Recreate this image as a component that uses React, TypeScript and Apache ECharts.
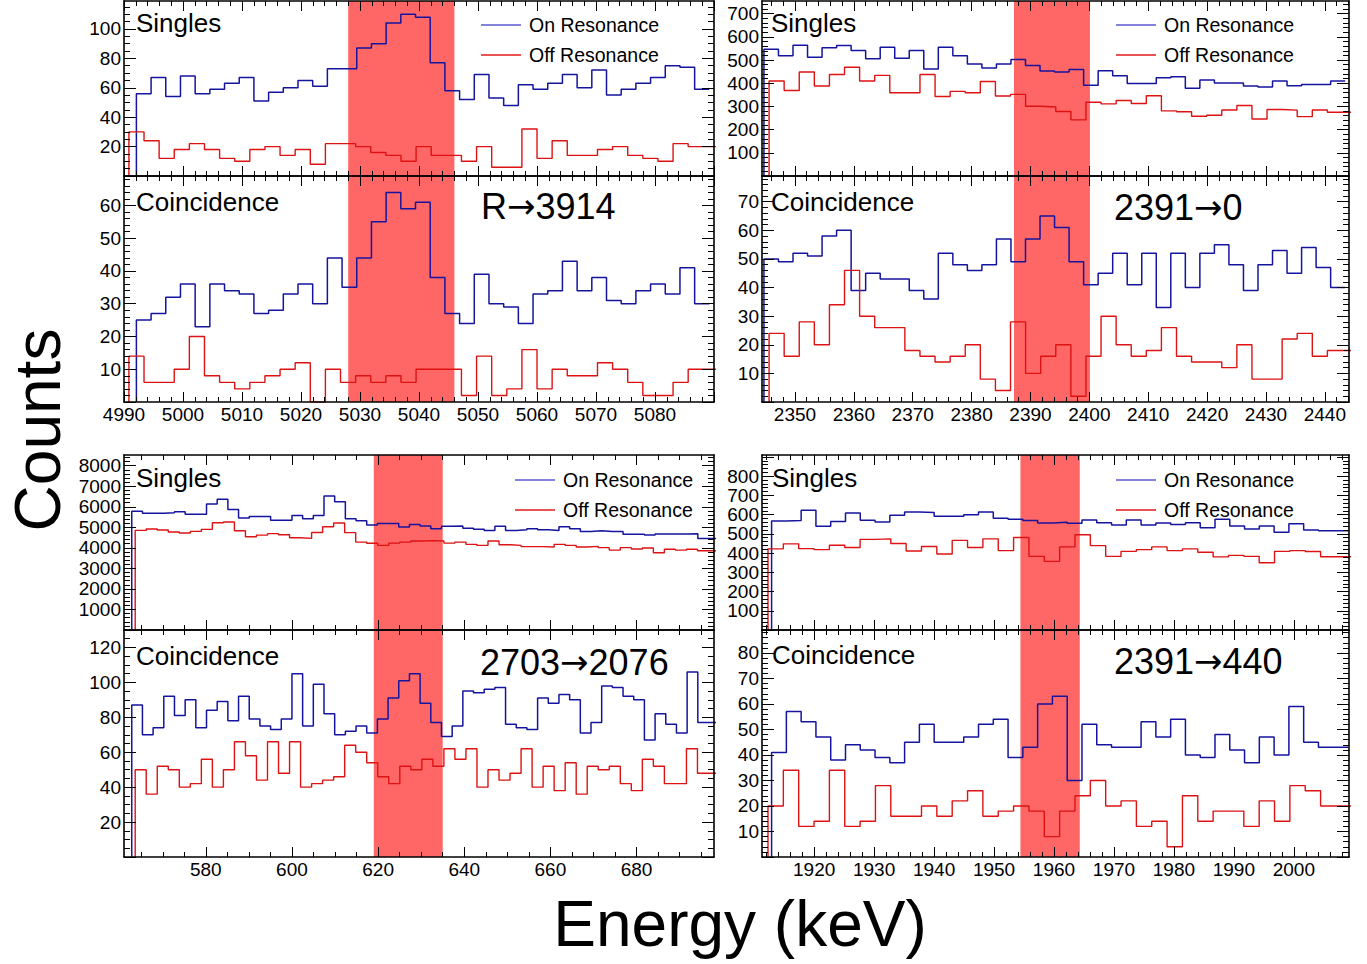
import React, { useEffect, useRef } from "react";
import * as echarts from "echarts";

const FONT = "'Liberation Sans', Arial, Helvetica, sans-serif";
const ARROW_FONT = "'DejaVu Sans', sans-serif";
const ON_COLOR = "#14149e";
const OFF_COLOR = "#dd1212";
const GATE_COLOR = "#ff6666";

// Binning of the two runs (keV): on-resonance bins are ~2.47 keV, off-resonance ~2.56 keV
// ---------- R -> 3914 ----------
const r3914Range = [4990, 5090];
const r3914Gate = [5028, 5046];
const r3914OnBins = { start: 4992.1, width: 2.49 };
const r3914OffBins = { start: 4990.83, width: 2.562 };
const r3914XLabels = [4990, 5000, 5010, 5020, 5030, 5040, 5050, 5060, 5070, 5080];
const r3914SinglesOn = [56, 67, 54, 68, 56, 59, 63, 67, 51, 57, 60, 65, 61, 73, 73, 87, 90, 104, 110, 108, 77, 58, 52, 69, 53, 48, 62, 59, 63, 69, 60, 72, 55, 59, 63, 67, 75, 74, 59];
const r3914SinglesOff = [30, 24, 12, 18, 22, 18, 12, 10, 18, 20, 14, 18, 8, 22, 22, 20, 16, 14, 10, 20, 14, 14, 10, 20, 6, 6, 32, 12, 24, 14, 14, 18, 20, 14, 12, 10, 22, 20, 20];
const r3914CoincOn = [25, 27, 32, 36, 23, 36, 34, 33, 27, 28, 33, 36, 30, 44, 35, 44, 55, 64, 59, 61, 38, 27, 24, 39, 30, 29, 24, 33, 34, 43, 34, 38, 31, 30, 34, 36, 33, 41, 30];
const r3914CoincOff = [14, 6, 6, 10, 20, 8, 6, 4, 6, 8, 10, 12, 0, 10, 6, 8, 6, 8, 6, 10, 10, 10, 2, 14, 2, 4, 16, 4, 10, 8, 8, 12, 10, 6, 2, 2, 6, 10, 10];
const r3914SinglesYLabels = [20, 40, 60, 80, 100];
const r3914CoincYLabels = [10, 20, 30, 40, 50, 60];

// ---------- 2391 -> 0 ----------
const g2391Range = [2344.4, 2444.1];
const g2391Gate = [2387.2, 2400.1];
const g2391OnBins = { start: 2344.73, width: 2.468 };
const g2391OffBins = { start: 2345.6, width: 2.563 };
const g2391XLabels = [2350, 2360, 2370, 2380, 2390, 2400, 2410, 2420, 2430, 2440];
const g2391SinglesOn = [547, 519, 564, 512, 553, 563, 541, 506, 555, 508, 541, 462, 555, 519, 483, 466, 483, 503, 477, 453, 449, 459, 391, 454, 433, 399, 399, 424, 428, 379, 414, 401, 401, 388, 384, 410, 389, 395, 395, 410];
const g2391SinglesOff = [410, 369, 449, 388, 438, 469, 410, 434, 359, 359, 438, 343, 365, 359, 408, 345, 352, 301, 298, 278, 242, 318, 311, 326, 313, 346, 281, 277, 258, 262, 285, 304, 246, 287, 284, 256, 285, 275, 275];
const g2391CoincOn = [50, 49, 52, 51, 58, 60, 39, 45, 43, 43, 39, 36, 52, 48, 46, 48, 57, 49, 57, 65, 61, 49, 41, 45, 52, 41, 52, 33, 52, 40, 52, 55, 48, 39, 48, 53, 45, 54, 47, 40];
const g2391CoincOff = [24, 16, 28, 20, 34, 46, 30, 26, 26, 18, 16, 14, 16, 20, 8, 4, 28, 10, 16, 20, 2, 16, 30, 20, 16, 18, 26, 16, 14, 14, 12, 20, 8, 8, 22, 24, 16, 18, 18];
const g2391SinglesYLabels = [100, 200, 300, 400, 500, 600, 700];
const g2391CoincYLabels = [10, 20, 30, 40, 50, 60, 70];

// ---------- 2703 -> 2076 ----------
const g2703Range = [561, 698];
const g2703Gate = [619, 635];
const g2703OnBins = { start: 562.8, width: 2.48 };
const g2703OffBins = { start: 563.6, width: 2.56 };
const g2703XLabels = [580, 600, 620, 640, 660, 680];
const g2703SinglesOn = [5780, 5680, 5680, 5710, 5760, 5630, 5630, 6130, 6360, 5870, 5450, 5520, 5520, 5340, 5340, 5580, 5420, 5580, 6520, 6250, 5420, 5320, 5110, 5180, 5180, 5010, 5140, 5060, 4930, 5050, 5060, 4950, 4900, 4850, 5050, 4850, 4880, 4930, 4880, 4850, 5030, 4930, 4800, 4830, 4800, 4800, 4660, 4660, 4620, 4670, 4670, 4670, 4690, 4460, 4460];
const g2703SinglesOff = [4850, 4920, 4870, 4770, 4720, 4800, 4900, 5220, 5260, 4830, 4540, 4620, 4690, 4640, 4490, 4460, 4750, 5030, 5210, 4740, 4280, 4220, 4120, 4230, 4280, 4330, 4350, 4330, 4230, 4280, 4170, 4120, 4330, 4150, 4120, 4060, 4060, 4040, 4170, 4120, 4040, 4070, 4010, 3890, 4010, 3940, 3990, 3760, 3930, 3890, 3930, 3860, 3860];
const g2703CoincOn = [87, 70, 74, 92, 81, 90, 74, 84, 89, 78, 92, 79, 75, 73, 79, 105, 75, 99, 82, 70, 72, 75, 71, 79, 91, 101, 105, 88, 77, 69, 75, 95, 94, 96, 97, 76, 74, 73, 91, 88, 93, 90, 71, 77, 98, 97, 92, 90, 67, 82, 76, 71, 106, 77, 77];
const g2703CoincOff = [50, 36, 52, 50, 40, 42, 56, 40, 50, 66, 58, 44, 66, 48, 66, 40, 42, 44, 46, 64, 60, 54, 46, 42, 52, 50, 56, 52, 62, 56, 62, 40, 50, 44, 48, 62, 40, 52, 38, 54, 36, 52, 50, 52, 42, 38, 56, 52, 42, 42, 62, 48, 48];
const g2703SinglesYLabels = [1000, 2000, 3000, 4000, 5000, 6000, 7000, 8000];
const g2703CoincYLabels = [20, 40, 60, 80, 100, 120];

// ---------- 2391 -> 440 ----------
const g440Range = [1911.3, 2009.2];
const g440Gate = [1954.4, 1964.3];
const g440OnBins = { start: 1912.9, width: 2.465 };
const g440OffBins = { start: 1912.3, width: 2.56 };
const g440XLabels = [1920, 1930, 1940, 1950, 1960, 1970, 1980, 1990, 2000];
const g440SinglesOn = [567, 569, 623, 539, 564, 609, 571, 562, 597, 614, 611, 592, 592, 599, 613, 581, 576, 569, 557, 560, 555, 572, 558, 546, 572, 546, 557, 548, 558, 532, 576, 541, 525, 541, 508, 553, 520, 516, 516];
const g440SinglesOff = [422, 448, 423, 418, 441, 429, 471, 474, 450, 411, 434, 395, 466, 429, 474, 413, 481, 383, 357, 432, 495, 439, 383, 409, 418, 432, 413, 422, 404, 380, 388, 383, 350, 409, 413, 408, 381, 381];
const g440CoincOn = [41, 57, 53, 47, 38, 44, 42, 39, 37, 45, 52, 45, 45, 47, 52, 54, 39, 43, 60, 63, 30, 52, 44, 43, 43, 53, 47, 54, 40, 39, 48, 42, 37, 47, 40, 59, 45, 43, 43];
const g440CoincOff = [20, 34, 12, 14, 34, 12, 14, 28, 16, 16, 20, 16, 22, 26, 16, 18, 20, 18, 8, 18, 24, 30, 20, 22, 12, 14, 4, 24, 14, 18, 18, 12, 22, 14, 28, 26, 20, 20];
const g440SinglesYLabels = [100, 200, 300, 400, 500, 600, 700, 800];
const g440CoincYLabels = [10, 20, 30, 40, 50, 60, 70, 80];

// Histogram outline: one point per bin's low edge, closed at the last bin's high edge
function histogram(bins: { start: number; width: number }, values: number[]) {
  const pts: number[][] = [[bins.start, 0]];
  values.forEach((v, i) => pts.push([+(bins.start + i * bins.width).toFixed(3), v]));
  pts.push([+(bins.start + values.length * bins.width).toFixed(3), values[values.length - 1]]);
  return pts;
}

function ticksBetween(min: number, max: number, step: number) {
  const out: number[] = [];
  for (let v = Math.ceil(min / step) * step; v <= max + 1e-9; v += step) out.push(+v.toFixed(4));
  return out;
}

type Panel = {
  box: { left: number; top: number; width: number; height: number };
  xRange: number[];
  xMajor: number[];
  xMajorStep: number;
  xMinorStep: number;
  showXLabels: boolean;
  yMax: number;
  yLabels: number[];
  yMinorStep: number;
  on: number[][];
  off: number[][];
  gate: number[];
};

const LEFT_X = 124;
const LEFT_W = 590;
const RIGHT_X = 762;
const RIGHT_W = 587;

const panels: Panel[] = [
  {
    box: { left: LEFT_X, top: 1, width: LEFT_W, height: 175 },
    xRange: r3914Range, xMajor: r3914XLabels, xMajorStep: 10, xMinorStep: 2, showXLabels: false,
    yMax: 119, yLabels: r3914SinglesYLabels, yMinorStep: 5,
    on: histogram(r3914OnBins, r3914SinglesOn), off: histogram(r3914OffBins, r3914SinglesOff), gate: r3914Gate,
  },
  {
    box: { left: LEFT_X, top: 176, width: LEFT_W, height: 226 },
    xRange: r3914Range, xMajor: r3914XLabels, xMajorStep: 10, xMinorStep: 2, showXLabels: true,
    yMax: 69, yLabels: r3914CoincYLabels, yMinorStep: 2,
    on: histogram(r3914OnBins, r3914CoincOn), off: histogram(r3914OffBins, r3914CoincOff), gate: r3914Gate,
  },
  {
    box: { left: RIGHT_X, top: 1, width: RIGHT_W, height: 175 },
    xRange: g2391Range, xMajor: g2391XLabels, xMajorStep: 10, xMinorStep: 2, showXLabels: false,
    yMax: 755, yLabels: g2391SinglesYLabels, yMinorStep: 20,
    on: histogram(g2391OnBins, g2391SinglesOn), off: histogram(g2391OffBins, g2391SinglesOff), gate: g2391Gate,
  },
  {
    box: { left: RIGHT_X, top: 176, width: RIGHT_W, height: 226 },
    xRange: g2391Range, xMajor: g2391XLabels, xMajorStep: 10, xMinorStep: 2, showXLabels: true,
    yMax: 79, yLabels: g2391CoincYLabels, yMinorStep: 2,
    on: histogram(g2391OnBins, g2391CoincOn), off: histogram(g2391OffBins, g2391CoincOff), gate: g2391Gate,
  },
  {
    box: { left: LEFT_X, top: 455, width: LEFT_W, height: 175 },
    xRange: g2703Range, xMajor: g2703XLabels, xMajorStep: 20, xMinorStep: 5, showXLabels: false,
    yMax: 8520, yLabels: g2703SinglesYLabels, yMinorStep: 200,
    on: histogram(g2703OnBins, g2703SinglesOn), off: histogram(g2703OffBins, g2703SinglesOff), gate: g2703Gate,
  },
  {
    box: { left: LEFT_X, top: 630, width: LEFT_W, height: 227 },
    xRange: g2703Range, xMajor: g2703XLabels, xMajorStep: 20, xMinorStep: 5, showXLabels: true,
    yMax: 130, yLabels: g2703CoincYLabels, yMinorStep: 5,
    on: histogram(g2703OnBins, g2703CoincOn), off: histogram(g2703OffBins, g2703CoincOff), gate: g2703Gate,
  },
  {
    box: { left: RIGHT_X, top: 455, width: RIGHT_W, height: 175 },
    xRange: g440Range, xMajor: g440XLabels, xMajorStep: 10, xMinorStep: 2, showXLabels: false,
    yMax: 910, yLabels: g440SinglesYLabels, yMinorStep: 20,
    on: histogram(g440OnBins, g440SinglesOn), off: histogram(g440OffBins, g440SinglesOff), gate: g440Gate,
  },
  {
    box: { left: RIGHT_X, top: 630, width: RIGHT_W, height: 227 },
    xRange: g440Range, xMajor: g440XLabels, xMajorStep: 10, xMinorStep: 2, showXLabels: true,
    yMax: 89, yLabels: g440CoincYLabels, yMinorStep: 2,
    on: histogram(g440OnBins, g440CoincOn), off: histogram(g440OffBins, g440CoincOff), gate: g440Gate,
  },
];

const frameLine = { show: true, onZero: false, lineStyle: { color: "#000", width: 1.6 } };
const noLine = { show: false, onZero: false };
const tickStyle = { color: "#000", width: 1 };
const labelStyle = { color: "#000", fontSize: 19, fontFamily: FONT, formatter: (v: number) => String(v) };

function buildOption() {
  const grid: any[] = [];
  const xAxis: any[] = [];
  const yAxis: any[] = [];
  const series: any[] = [];

  panels.forEach((p, i) => {
    grid.push({ ...p.box, containLabel: false });
    const xMinor = ticksBetween(p.xRange[0], p.xRange[1], p.xMinorStep);
    const xMajor = ticksBetween(p.xRange[0], p.xRange[1], p.xMajorStep);
    const yMajorStep = p.yLabels[1] - p.yLabels[0];
    const yMajor = ticksBetween(0, p.yMax, yMajorStep);
    const yMinor = ticksBetween(0, p.yMax, p.yMinorStep);

    const xBase = { gridIndex: i, type: "value", min: p.xRange[0], max: p.xRange[1], splitLine: { show: false }, z: 5, silent: true };
    const yBase = { gridIndex: i, type: "value", min: 0, max: p.yMax, splitLine: { show: false }, z: 5, silent: true };

    ["bottom", "top"].forEach((pos) => {
      xAxis.push({
        ...xBase,
        position: pos,
        axisLine: frameLine,
        axisTick: { show: true, inside: true, length: 10, customValues: xMajor, lineStyle: tickStyle },
        axisLabel:
          pos === "bottom" && p.showXLabels
            ? { show: true, customValues: p.xMajor, margin: 3, ...labelStyle }
            : { show: false },
      });
      xAxis.push({
        ...xBase,
        position: pos,
        axisLine: noLine,
        axisTick: { show: true, inside: true, length: 5, customValues: xMinor, lineStyle: tickStyle },
        axisLabel: { show: false },
      });
    });
    ["left", "right"].forEach((pos) => {
      yAxis.push({
        ...yBase,
        position: pos,
        axisLine: frameLine,
        axisTick: { show: true, inside: true, length: 12, customValues: yMajor, lineStyle: tickStyle },
        axisLabel:
          pos === "left" ? { show: true, customValues: p.yLabels, margin: 3, ...labelStyle } : { show: false },
      });
      yAxis.push({
        ...yBase,
        position: pos,
        axisLine: noLine,
        axisTick: { show: true, inside: true, length: 6, customValues: yMinor, lineStyle: tickStyle },
        axisLabel: { show: false },
      });
    });

    const ax = i * 4;
    series.push({
      type: "line",
      name: "On Resonance",
      xAxisIndex: ax,
      yAxisIndex: ax,
      step: "end",
      symbol: "none",
      silent: true,
      data: p.on,
      lineStyle: { color: ON_COLOR, width: 1.5 },
      z: 3,
      markArea: {
        silent: true,
        label: { show: false },
        itemStyle: { color: GATE_COLOR, opacity: 1 },
        data: [[{ xAxis: p.gate[0] }, { xAxis: p.gate[1] }]],
      },
    });
    series.push({
      type: "line",
      name: "Off Resonance",
      xAxisIndex: ax,
      yAxisIndex: ax,
      step: "end",
      symbol: "none",
      silent: true,
      data: p.off,
      lineStyle: { color: OFF_COLOR, width: 1.4 },
      z: 3,
    });
  });

  const text = (s: string, x: number, y: number, size: number, extra: any = {}) => ({
    type: "text",
    x,
    y,
    z: 10,
    ...extra,
    style: { text: s, fill: "#000", fontSize: size, fontFamily: FONT, align: "left", verticalAlign: "middle", ...(extra.style || {}) },
  });

  // Transition labels: the arrow is set in a font whose arrow is long and thin
  const transition = (from: string, to: string, x: number, y: number) =>
    text(`{t|${from}}{a|\u2192}{t|${to}}`, x, y, 36, {
      style: {
        rich: {
          t: { fontSize: 36, fontFamily: FONT, fill: "#000" },
          a: { fontSize: 34, fontFamily: ARROW_FONT, fill: "#000" },
        },
      },
    });

  const legend = (x: number, y: number) => [
    { type: "line", z: 10, shape: { x1: x, y1: y, x2: x + 40, y2: y }, style: { stroke: "#5a5acc", lineWidth: 1.3 } },
    text("On Resonance", x + 48, y, 19.5),
    { type: "line", z: 10, shape: { x1: x, y1: y + 30, x2: x + 40, y2: y + 30 }, style: { stroke: "#e01a1a", lineWidth: 1.3 } },
    text("Off Resonance", x + 48, y + 30, 19.5),
  ];

  const graphic: any[] = [
    text("Singles", 136, 23, 26),
    text("Coincidence", 136, 202, 26),
    transition("R", "3914", 481, 206),
    text("Singles", 771, 23, 26),
    text("Coincidence", 771, 202, 26),
    transition("2391", "0", 1114, 207),
    text("Singles", 136, 478, 26),
    text("Coincidence", 136, 656, 26),
    transition("2703", "2076", 480, 662),
    text("Singles", 772, 478, 26),
    text("Coincidence", 772, 655, 26),
    transition("2391", "440", 1114, 661),
    ...legend(481, 25),
    ...legend(1116, 25),
    ...legend(515, 480),
    ...legend(1116, 480),
    text("Counts", 38, 430, 64, { rotation: Math.PI / 2, style: { align: "center" } }),
    text("Energy (keV)", 740, 924, 64, { style: { align: "center" } }),
  ];

  return { animation: false, backgroundColor: "#fff", grid, xAxis, yAxis, series, graphic };
}

export default function App() {
  const ref = useRef<HTMLDivElement>(null);
  useEffect(() => {
    if (!ref.current) return;
    const chart = echarts.init(ref.current, undefined, { renderer: "svg" });
    chart.setOption(buildOption() as any);
    return () => chart.dispose();
  }, []);
  return <div ref={ref} style={{ position: "absolute", left: 0, top: 0, width: 1367, height: 964 }} />;
}
